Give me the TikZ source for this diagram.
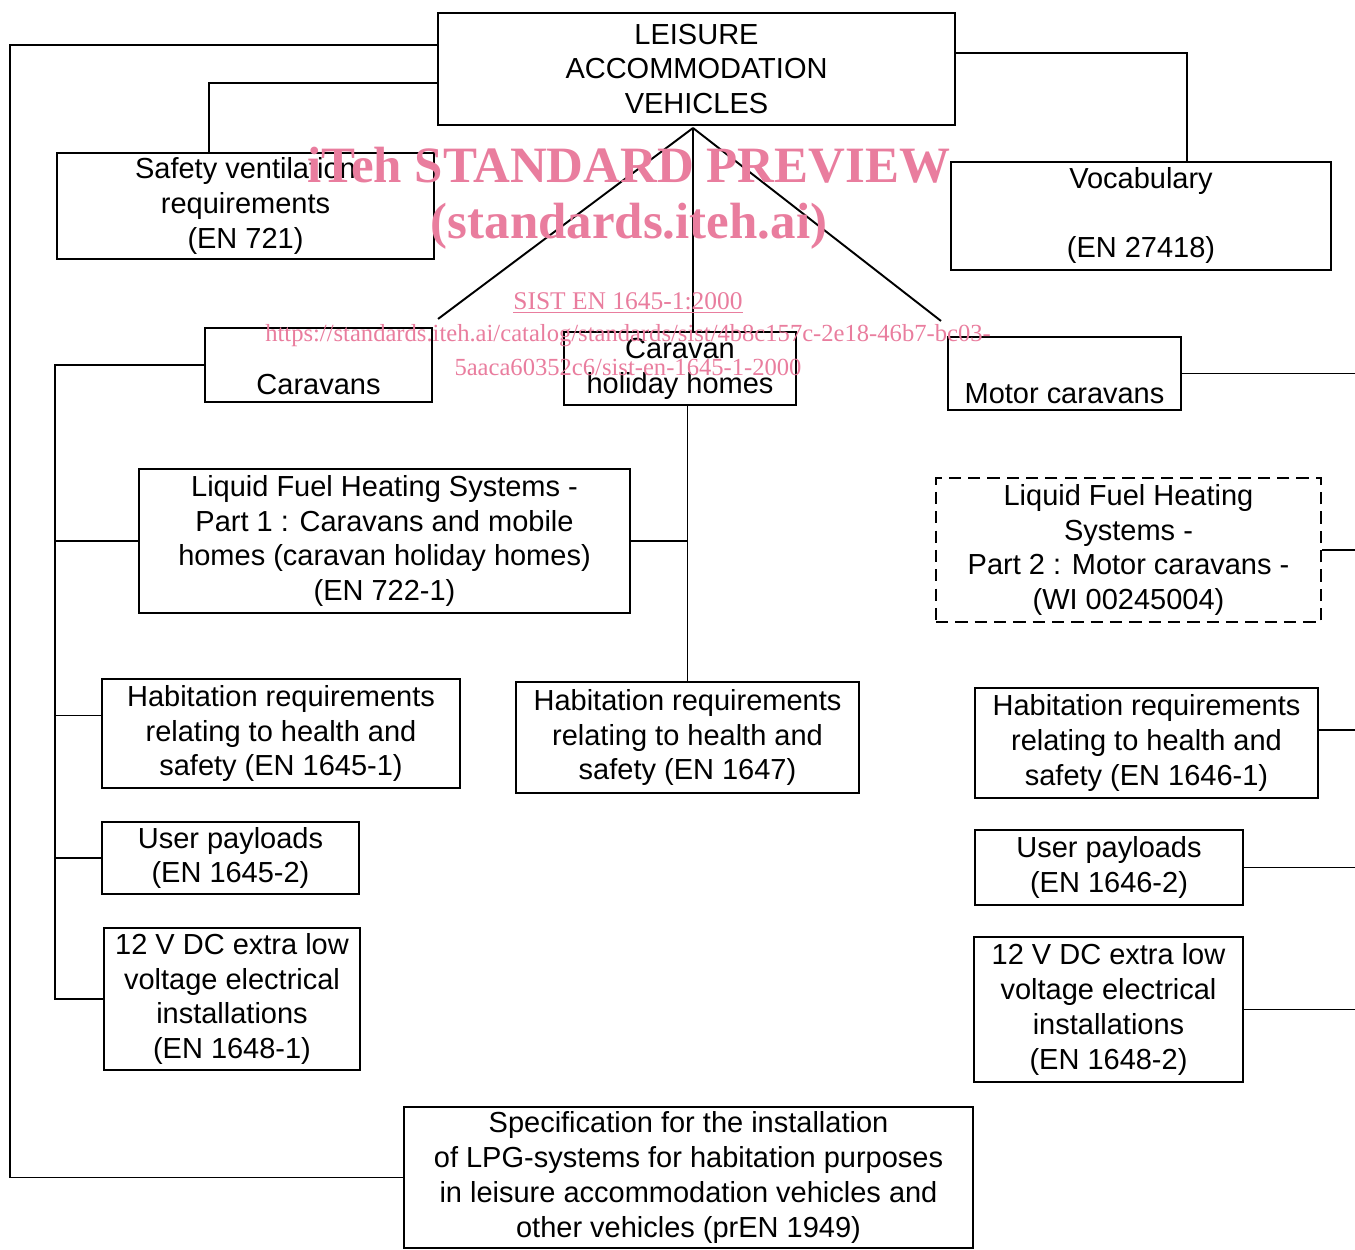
\documentclass[tikz,border=0pt]{standalone}
\usepackage{fontspec}
\setmainfont{Liberation Sans}
\newfontfamily\marcafont{Liberation Serif}
\usetikzlibrary{calc}
\definecolor{marca}{RGB}{233,125,158}

\tikzset{
	caja/.style={draw, line width=1.2pt, align=center, inner sep=0pt,
		font=\fontsize{16.5}{19.9}\selectfont},
	cajarayada/.style={caja, dash pattern=on 7pt off 4pt},
	linea/.style={line width=1.1pt},
	marcatexto/.style={text=marca, align=center, inner sep=0pt}
}

\begin{document}
\begin{tikzpicture}[x=0.02cm, y=-0.02cm]
	\useasboundingbox (0,0) rectangle (1355,1250);
	
	% Caja principal
	\node[caja, minimum width=10.34cm, minimum height=2.24cm] (lav) at (696.5,69)
		{LEISURE\\ACCOMMODATION\\VEHICLES};
	
	% Primer nivel
	\node[caja, minimum width=7.54cm, minimum height=2.12cm] (vent) at (245.5,206)
		{Safety ventilation\\requirements\\(EN 721)};
	\node[caja, minimum width=7.6cm, minimum height=2.16cm] (voc) at (1141,216)
		{\strut Vocabulary\\\strut\\(EN 27418)\strut};
	\node[caja, minimum width=4.54cm, minimum height=1.48cm] (car) at (318.5,365)
		{\strut\\Caravans};
	\node[caja, minimum width=4.64cm, minimum height=1.46cm] (chh) at (680,368.5)
		{Caravan\\holiday homes};
	\node[caja, minimum width=4.66cm, minimum height=1.46cm] (mc) at (1064.5,373.5)
		{\strut\\Motor caravans};
	
	% Calefaccion
	\node[caja, minimum width=9.82cm, minimum height=2.88cm] (lf1) at (384.5,541)
		{Liquid Fuel Heating Systems -\\Part 1 : Caravans and mobile\\homes (caravan holiday homes)\\(EN 722-1)};
	\node[cajarayada, minimum width=7.7cm, minimum height=2.88cm] (lf2) at (1128.5,550)
		{Liquid Fuel Heating\\Systems -\\Part 2 : Motor caravans -\\(WI 00245004)};
	
	% Habitabilidad
	\node[caja, minimum width=7.16cm, minimum height=2.18cm] (hab1) at (281,733.5)
		{Habitation requirements\\relating to health and\\safety (EN 1645-1)};
	\node[caja, minimum width=6.86cm, minimum height=2.22cm] (hab7) at (687.5,737.5)
		{Habitation requirements\\relating to health and\\safety (EN 1647)};
	\node[caja, minimum width=6.86cm, minimum height=2.2cm] (hab6) at (1146.5,743)
		{Habitation requirements\\relating to health and\\safety (EN 1646-1)};
	
	% Cargas y electricidad
	\node[caja, minimum width=5.14cm, minimum height=1.44cm] (up5) at (230.5,858)
		{User payloads\\(EN 1645-2)};
	\node[caja, minimum width=5.36cm, minimum height=1.5cm] (up6) at (1109,867.5)
		{User payloads\\(EN 1646-2)};
	\node[caja, minimum width=5.12cm, minimum height=2.84cm] (dc1) at (232,999)
		{12 V DC extra low\\voltage electrical\\installations\\(EN 1648-1)};
	\node[caja, minimum width=5.38cm, minimum height=2.9cm] (dc2) at (1108.5,1009.5)
		{12 V DC extra low\\voltage electrical\\installations\\(EN 1648-2)};
	
	% GLP
	\node[caja, minimum width=11.38cm, minimum height=2.82cm] (lpg) at (688.5,1177.5)
		{Specification for the installation\\of LPG-systems for habitation purposes\\in leisure accommodation vehicles and\\other vehicles (prEN 1949)};
	
	% Puntos de apoyo
	\coordinate (lt) at (10,45);
	\coordinate (vt) at (209,83);
	\coordinate (vr) at (1187,53);
	\coordinate (apex) at (693,128);
	\coordinate (ct) at (55,363);
	\coordinate (rt) at (1355,0);
	
	% Lineas desde la caja principal
	\draw[linea] (lav.west |- lt) -| (lt |- lpg.west) -- (lpg.west);
	\draw[linea] (lav.west |- vt) -| (vent.north -| vt);
	\draw[linea] (lav.east |- vr) -| (voc.north -| vr);
	\draw[linea] (apex) -- ($(car.north east)+(5,-8)$);
	\draw[linea] (apex) -- (apex |- chh.north);
	\draw[linea] (apex) -- ($(mc.north west)+(-6,-15)$);
	
	% Caravanas
	\draw[linea] (car.west) -| (ct |- dc1.west) -- (dc1.west);
	\foreach \n in {lf1, up5}
		\draw[linea] (\n.west) -- (\n.west -| ct);
	\draw[linea] ($(hab1.west)+(0,-18)$) -- ($(hab1.west -| ct)+(0,-18)$);
	
	% Caravanas fijas
	\draw[linea] (chh.south -| hab7.north) -- (hab7.north);
	\draw[linea] (lf1.east) -- (lf1.east -| hab7.north);
	
	% Autocaravanas (sigue fuera del borde)
	\foreach \n in {mc, lf2, up6, dc2}
		\draw[linea] (\n.east) -- (\n.east -| rt);
	\draw[linea] ($(hab6.east)+(0,-13)$) -- ($(hab6.east -| rt)+(0,-13)$);
	
	% Marca de agua
	\node[marcatexto, font=\marcafont\bfseries\fontsize{29}{29}\selectfont] (m1) at (629,165)
		{iTeh STANDARD PREVIEW};
	\node[marcatexto, font=\marcafont\bfseries\fontsize{29}{29}\selectfont] (m2) at (629,226)
		{(standards.iteh.ai)};
	\node[marcatexto, font=\marcafont\fontsize{14.5}{14.5}\selectfont] (m3) at (628,303)
		{\underline{SIST EN 1645-1:2000}};
	\node[marcatexto, font=\marcafont\fontsize{14}{14}\selectfont] (m4) at (628,336)
		{https://standards.iteh.ai/catalog/standards/sist/4b8c157c-2e18-46b7-bc03-};
	\node[marcatexto, font=\marcafont\fontsize{14}{14}\selectfont] (m5) at (628,367)
		{5aaca60352c6/sist-en-1645-1-2000};
\end{tikzpicture}
\end{document}
